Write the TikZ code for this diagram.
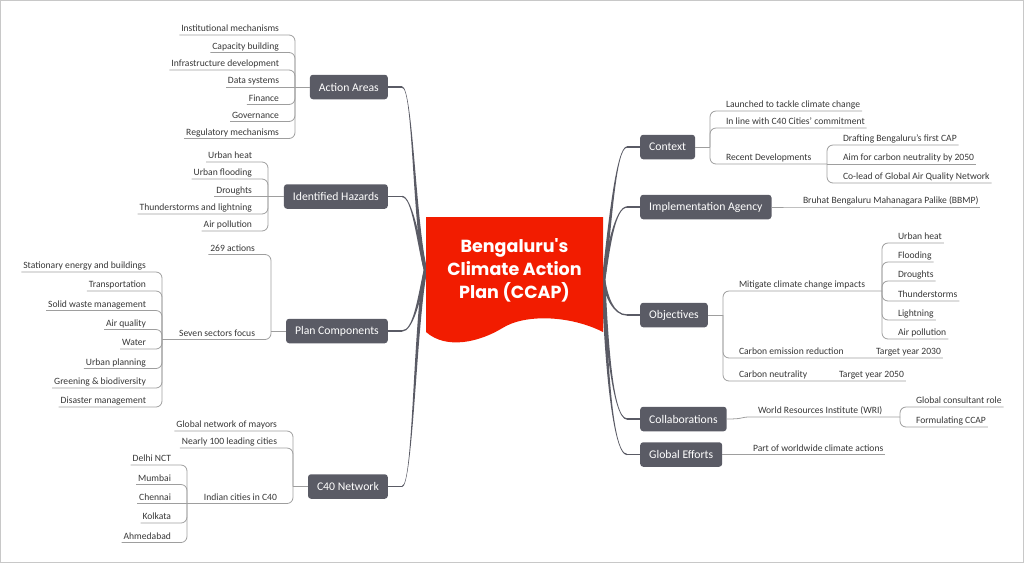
\documentclass[tikz,border=0pt]{standalone}
\usepackage{fontspec}
\setmainfont{Carlito}
\newfontfamily\titlefont{Poppins}
\usetikzlibrary{calc}
\definecolor{boxgray}{RGB}{90,91,101}
\definecolor{linegray}{RGB}{158,158,158}
\definecolor{txt}{RGB}{55,55,55}
\definecolor{ccapred}{RGB}{242,28,0}
\definecolor{framegray}{RGB}{200,200,200}
\newcommand\taper[6]{\fill[trunk] ($(#1)+(0,-.7)$) .. controls ($(#2)+(0,-.7)$) and ($(#3)+(#5,0)$) .. ($(#4)+(#5,0)$) -- ($(#4)+(#6,0)$) .. controls ($(#3)+(#6,0)$) and ($(#2)+(0,.7)$) .. ($(#1)+(0,.7)$) -- cycle;}
\begin{document}
\begin{tikzpicture}[x=1pt,y=-1pt,
 mainbox/.style={fill=boxgray,text=white,rounded corners=3pt,font=\fontsize{11.7}{13}\selectfont,minimum height=24.5pt,inner xsep=9pt,inner ysep=0pt},
 leaf/.style={text=txt,font=\fontsize{9.6}{11}\selectfont,inner xsep=2pt,inner ysep=0pt,text height=7.5pt,text depth=3.5pt,outer sep=0pt},
 lleaf/.style={leaf,anchor=south east},
 rleaf/.style={leaf,anchor=south west},
 conn/.style={draw=linegray,line width=0.8pt,rounded corners=6pt},
 stub/.style={draw=boxgray,line width=1.4pt},
 trunk/.style={fill=boxgray}]
\useasboundingbox (0,0) rectangle (1024,563);
\draw[framegray,line width=1pt] (0.5,0.5) rectangle (1023.5,562.5);

% main boxes
\node[mainbox,anchor=east] (aa) at (388,87) {Action Areas};
\node[mainbox,anchor=east] (ih) at (388,196.5) {Identified Hazards};
\node[mainbox,anchor=east] (pc) at (388,331) {Plan Components};
\node[mainbox,anchor=east] (cn) at (388,486.5) {C40 Network};
\node[mainbox,anchor=west] (cx) at (640,147) {Context};
\node[mainbox,anchor=west] (ia) at (640,207) {Implementation Agency};
\node[mainbox,anchor=west] (ob) at (640,315) {Objectives};
\node[mainbox,anchor=west] (co) at (640,419) {Collaborations};
\node[mainbox,anchor=west] (ge) at (640,454.5) {Global Efforts};

% central node
\coordinate (cc) at (514.5,270);
\coordinate (cl) at ($(cc)+(-89,0)$);
\coordinate (cr) at ($(cc)+(89,10)$);

% trunks left
\coordinate (aas) at ($(aa.east)+(14,0)$);
\coordinate (ihs) at ($(ih.east)+(14,0)$);
\coordinate (pcs) at ($(pc.east)+(14,0)$);
\coordinate (cns) at ($(cn.east)+(14,0)$);
\draw[stub] (aa.east) -- (aas);
\draw[stub] (ih.east) -- (ihs);
\draw[stub] (pc.east) -- (pcs);
\draw[stub] (cn.east) -- (cns);
\taper{aas}{413,87}{414,225}{cl}{1.8}{-1.8}
\taper{ihs}{412,196.5}{418,240}{cl}{1.8}{-1.8}
\taper{pcs}{413,331}{419,300}{cl}{-1.8}{1.8}
\taper{cns}{413,486.5}{415,320}{cl}{-1.8}{1.8}
% trunks right
\coordinate (cxs) at ($(cx.west)+(-13,0)$);
\coordinate (ias) at ($(ia.west)+(-13,0)$);
\coordinate (obs) at ($(ob.west)+(-13,0)$);
\coordinate (cos) at ($(co.west)+(-13,0)$);
\coordinate (ges) at ($(ge.west)+(-13,0)$);
\draw[stub] (cx.west) -- (cxs);
\draw[stub] (ia.west) -- (ias);
\draw[stub] (ob.west) -- (obs);
\draw[stub] (co.west) -- (cos);
\draw[stub] (ge.west) -- (ges);
\taper{cxs}{616,147}{610,225}{cr}{-1.8}{1.8}
\taper{ias}{615,207}{608,250}{cr}{-1.8}{1.8}
\taper{obs}{613,315}{606,295}{cr}{1.8}{-1.8}
\taper{cos}{612,419}{606,330}{cr}{1.8}{-1.8}
\taper{ges}{611,454.5}{605,340}{cr}{1.8}{-1.8}

\fill[ccapred] ($(cc)+(-88.5,-53)$) -- ($(cc)+(88.5,-53)$) -- ($(cc)+(88.5,62)$)
  .. controls ($(cc)+(55,45)$) and ($(cc)+(10,44)$) .. ($(cc)+(-12,58)$)
  .. controls ($(cc)+(-35,72)$) and ($(cc)+(-68,80)$) .. ($(cc)+(-88.5,62)$) -- cycle;
\node[text=white,align=center,inner sep=0pt,font=\titlefont\bfseries\fontsize{17.5}{23}\selectfont] (ccap) at (cc) {Bengaluru's\\Climate Action\\Plan (CCAP)};

% ---------- Action Areas
\coordinate (aab) at (295,87);
\node[lleaf] (aa1) at (281,35) {Institutional mechanisms};
\node[lleaf] (aa2) at (281,52.5) {Capacity building};
\node[lleaf] (aa3) at (281,70) {Infrastructure development};
\node[lleaf] (aa4) at (281,87) {Data systems};
\node[lleaf] (aa5) at (281,104.5) {Finance};
\node[lleaf] (aa6) at (281,121.5) {Governance};
\node[lleaf] (aa7) at (281,138.5) {Regulatory mechanisms};
\draw[conn] (aa.west) -- (aab);
\foreach \c in {aa1,aa2,aa3,aa5,aa6,aa7} \draw[conn] (aab) |- (\c.south east) -- (\c.south west);
\draw[conn] (aab) -- (aa4.south west);

% ---------- Identified Hazards
\coordinate (ihb) at (268,196.5);
\node[lleaf] (ih1) at (254,162) {Urban heat};
\node[lleaf] (ih2) at (254,179) {Urban flooding};
\node[lleaf] (ih3) at (254,196.5) {Droughts};
\node[lleaf] (ih4) at (254,214) {Thunderstorms and lightning};
\node[lleaf] (ih5) at (254,231) {Air pollution};
\draw[conn] (ih.west) -- (ihb);
\foreach \c in {ih1,ih2,ih4,ih5} \draw[conn] (ihb) |- (\c.south east) -- (\c.south west);
\draw[conn] (ihb) -- (ih3.south west);

% ---------- Plan Components
\coordinate (pcb) at (271,331);
\node[lleaf] (pc1) at (257,254.5) {269 actions};
\node[lleaf] (pc2) at (257,339.5) {Seven sectors focus};
\coordinate (ssb) at (162,339.5);
\draw[conn] (pc.west) -- (pcb);
\draw[conn] (pcb) |- (pc1.south east) -- (pc1.south west);
\draw[conn] (pcb) |- (pc2.south east) -- (ssb);
\node[lleaf] (ss1) at (148,272) {Stationary energy and buildings};
\node[lleaf] (ss2) at (148,291) {Transportation};
\node[lleaf] (ss3) at (148,310.5) {Solid waste management};
\node[lleaf] (ss4) at (148,329.5) {Air quality};
\node[lleaf] (ss5) at (148,349) {Water};
\node[lleaf] (ss6) at (148,368.5) {Urban planning};
\node[lleaf] (ss7) at (148,388) {Greening \& biodiversity};
\node[lleaf] (ss8) at (148,407) {Disaster management};
\foreach \c in {ss1,ss2,ss3,ss4,ss5,ss6,ss7,ss8} \draw[conn] (ssb) |- (\c.south east) -- (\c.south west);

% ---------- C40 Network
\coordinate (cnb) at (293,486.5);
\node[lleaf] (cn1) at (279,431) {Global network of mayors};
\node[lleaf] (cn2) at (279,448) {Nearly 100 leading cities};
\node[lleaf] (cn3) at (279,503.5) {Indian cities in C40};
\coordinate (icb) at (187,503.5);
\draw[conn] (cn.west) -- (cnb);
\draw[conn] (cnb) |- (cn1.south east) -- (cn1.south west);
\draw[conn] (cnb) |- (cn2.south east) -- (cn2.south west);
\draw[conn] (cnb) |- (cn3.south east) -- (icb);
\node[lleaf] (ic1) at (173,465) {Delhi NCT};
\node[lleaf] (ic2) at (173,484.5) {Mumbai};
\node[lleaf] (ic3) at (173,503.5) {Chennai};
\node[lleaf] (ic4) at (173,523) {Kolkata};
\node[lleaf] (ic5) at (173,542.5) {Ahmedabad};
\foreach \c in {ic1,ic2,ic4,ic5} \draw[conn] (icb) |- (\c.south east) -- (\c.south west);
\draw[conn] (icb) -- (ic3.south west);

% ---------- Context
\coordinate (cxb) at (710,147);
\node[rleaf] (cx1) at (724,111) {Launched to tackle climate change};
\node[rleaf] (cx2) at (724,128) {In line with C40 Cities' commitment};
\node[rleaf] (cx3) at (724,164) {Recent Developments};
\coordinate (rdb) at (827,164);
\draw[conn] (cx.east) -- (cxb);
\draw[conn] (cxb) |- (cx1.south west) -- (cx1.south east);
\draw[conn] (cxb) |- (cx2.south west) -- (cx2.south east);
\draw[conn] (cxb) |- (cx3.south west) -- (rdb);
\node[rleaf] (rd1) at (841,145) {Drafting Bengaluru's first CAP};
\node[rleaf] (rd2) at (841,164) {Aim for carbon neutrality by 2050};
\node[rleaf] (rd3) at (841,183) {Co-lead of Global Air Quality Network};
\draw[conn] (rdb) |- (rd1.south west) -- (rd1.south east);
\draw[conn] (rdb) -- (rd2.south east);
\draw[conn] (rdb) |- (rd3.south west) -- (rd3.south east);

% ---------- Implementation Agency
\node[rleaf] (ia1) at (801,207) {Bruhat Bengaluru Mahanagara Palike (BBMP)};
\draw[conn] (ia.east) -- (ia1.south west) -- (ia1.south east);

% ---------- Objectives
\coordinate (obb) at (723,315);
\node[rleaf] (ob1) at (737,291) {Mitigate climate change impacts};
\node[rleaf] (ob2) at (737,358) {Carbon emission reduction};
\node[rleaf] (ob3) at (737,381) {Carbon neutrality};
\node[rleaf] (t30) at (874,358) {Target year 2030};
\node[rleaf] (t50) at (837,381) {Target year 2050};
\coordinate (mib) at (882,291);
\draw[conn] (ob.east) -- (obb);
\draw[conn] (obb) |- (ob1.south west) -- (mib);
\draw[conn] (obb) |- (ob2.south west) -- (t30.south east);
\draw[conn] (obb) |- (ob3.south west) -- (t50.south east);
\node[rleaf] (mi1) at (896,243) {Urban heat};
\node[rleaf] (mi2) at (896,262) {Flooding};
\node[rleaf] (mi3) at (896,281) {Droughts};
\node[rleaf] (mi4) at (896,301) {Thunderstorms};
\node[rleaf] (mi5) at (896,320) {Lightning};
\node[rleaf] (mi6) at (896,339) {Air pollution};
\foreach \c in {mi1,mi2,mi3,mi4,mi5,mi6} \draw[conn] (mib) |- (\c.south west) -- (\c.south east);

% ---------- Collaborations
\node[rleaf] (co1) at (756,417) {World Resources Institute (WRI)};
\coordinate (wrib) at (900,417);
\draw[conn] (co.east) .. controls +(18,0) and +(-16,0) .. (co1.south west) -- (wrib);
\node[rleaf] (gc1) at (914,407) {Global consultant role};
\node[rleaf] (gc2) at (914,427) {Formulating CCAP};
\draw[conn] (wrib) |- (gc1.south west) -- (gc1.south east);
\draw[conn] (wrib) |- (gc2.south west) -- (gc2.south east);

% ---------- Global Efforts
\node[rleaf] (ge1) at (751,454.5) {Part of worldwide climate actions};
\draw[conn] (ge.east) -- (ge1.south west) -- (ge1.south east);
\end{tikzpicture}
\end{document}
